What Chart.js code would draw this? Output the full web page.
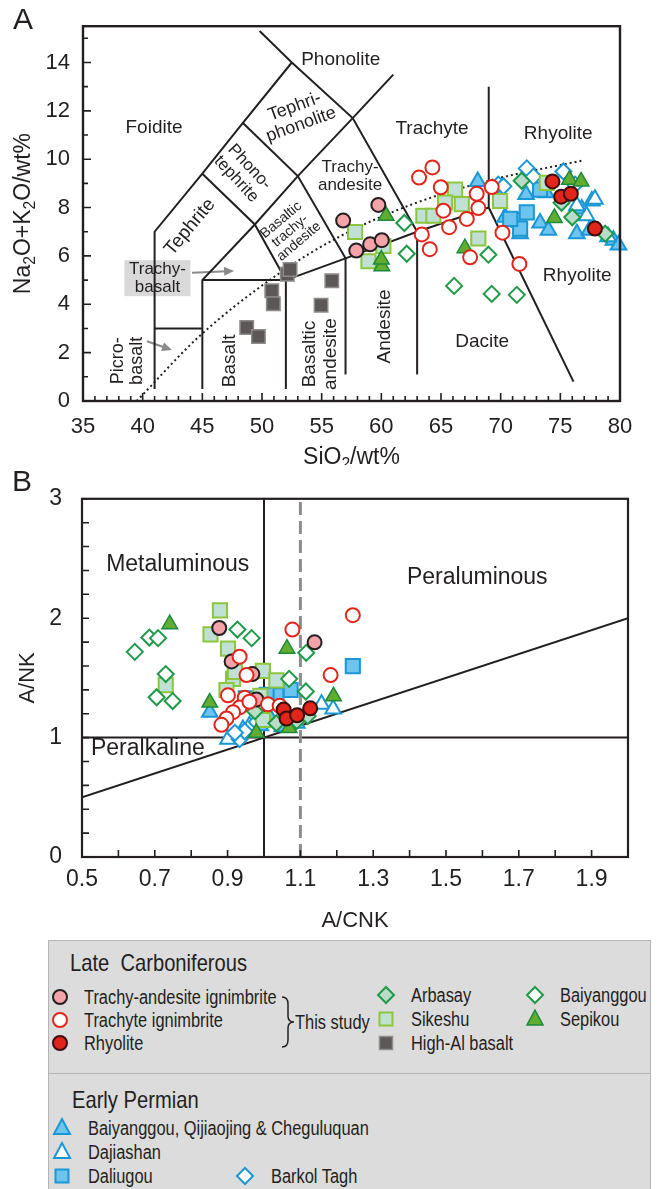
<!DOCTYPE html>
<html>
<head>
<meta charset="utf-8">
<script src="https://cdn.jsdelivr.net/npm/chart.js@4.4.1/dist/chart.umd.min.js"></script>
<style>
  body { margin: 0; background: #fff; width: 667px; height: 1189px; overflow: hidden; position: relative; }
  canvas { position: absolute; left: 0; }
  #tas { top: 0; }
  #ank { top: 465px; }
  #legend { position: absolute; left: 48px; top: 940px; width: 603px; height: 270px; background: #dcdcdc; border: 1px solid #b4b4b4; box-sizing: border-box; }
  #legend .div { position: absolute; left: 0; right: 0; top: 132px; border-top: 1px solid #b4b4b4; }
  .lg { position: absolute; white-space: nowrap; color: #231f20; font-family: "Liberation Sans", Arial, sans-serif; line-height: 1; transform-origin: 0 50%; }
  .mk { position: absolute; width: 22px; height: 22px; }
</style>
</head>
<body>
<canvas id="tas" width="667" height="465"></canvas>
<canvas id="ank" width="667" height="475"></canvas>
<div id="legend"><div class="div"></div></div>

<script>
const FONT = '"Liberation Sans", Arial, Helvetica, sans-serif';
const INK = '#231f20';

/* ---------------- Panel A: TAS (SiO2 vs Na2O+K2O) ---------------- */
const tasXTicks = [35, 40, 45, 50, 55, 60, 65, 70, 75, 80];
const tasYTicks = [0, 2, 4, 6, 8, 10, 12, 14];

const tasTrachyAndesite = [[56.8, 7.46], [59.75, 8.11], [57.9, 6.22], [59.06, 6.48], [60.04, 6.65]];
const tasTrachyte = [[63.16, 9.24], [64.28, 9.66], [64.98, 8.84], [67.99, 8.57], [69.25, 8.85], [68.13, 7.98],
  [65.2, 7.87], [67.16, 7.53], [65.68, 7.19], [63.39, 6.89], [70.15, 6.96], [64.06, 6.28], [67.44, 5.94], [71.57, 5.67]];
const tasRhyolite = [[74.34, 9.08], [75.07, 8.45], [75.88, 8.57], [77.9, 7.13]];
const tasArbasay = [[71.76, 9.11], [76.0, 7.6], [78.76, 6.92], [75.1, 8.2]];
const tasSikeshu = [[57.8, 6.99], [58.92, 5.78], [60.17, 6.41], [66.18, 8.74], [65.34, 8.21], [66.74, 8.14],
  [63.52, 7.66], [64.36, 7.66], [68.13, 6.72], [69.95, 8.27], [73.87, 9.02]];
const tasHighAlBasalt = [[48.72, 3.04], [49.7, 2.67], [50.82, 4.56], [50.95, 4.02], [52.12, 5.24], [52.35, 5.44], [54.95, 3.96], [55.85, 4.97]];
const tasBaiyanggouLC = [[61.93, 7.36], [62.13, 6.09], [68.97, 6.05], [66.1, 4.76], [69.25, 4.43], [71.35, 4.39]];
const tasSepikou = [[60.4, 7.66], [60.04, 5.57], [60.0, 5.85], [67.0, 6.32], [74.5, 7.57], [75.76, 9.15], [76.74, 9.08]];
const tasBaiyanggouEP = [[68.08, 9.08], [70.37, 7.6], [72.13, 8.54], [73.3, 7.36], [74.0, 7.06], [76.8, 7.94], [77.64, 8.27],
  [76.38, 6.92], [79.45, 6.65], [79.87, 6.45], [77.44, 7.06], [71.63, 6.92], [73.8, 8.61]];
const tasDajiashan = [[77.2, 7.66], [77.9, 8.34], [76.38, 8.07], [79.0, 6.79]];
const tasDaliugou = [[71.49, 7.49], [72.19, 7.8], [71.63, 7.13], [70.8, 7.53], [73.3, 8.74]];
const tasBarkolTagh = [[72.19, 9.62], [69.8, 8.95], [75.26, 9.49], [72.75, 9.28], [70.23, 8.88], [76.24, 8.95]];

// field boundaries of the TAS grid
const tasFieldLines = [
  [[41, 0.5], [41, 7], [45, 9.4], [48.4, 11.5], [52.5, 14], [49.8, 15.3]],
  [[41, 3], [45, 3]],
  [[45, 0.5], [45, 5], [49.4, 7.3], [53, 9.3], [57.6, 11.7], [61, 13.5]],
  [[45, 5], [52, 5]],
  [[52, 0.5], [52, 5], [57, 5.9], [63, 7], [69, 8], [69, 13]],
  [[45, 9.4], [49.4, 7.3], [52, 5]],
  [[48.4, 11.5], [53, 9.3], [57, 5.9], [57, 1.1]],
  [[52.5, 14], [57.6, 11.7], [63, 7], [63, 1.1]],
  [[69, 8], [76.1, 0.8]]
];
const tasAlkalineLine = [[39.5, 0], [44.8, 2.7], [51.5, 5.3], [56.5, 6.8], [62.4, 8.1], [68.9, 9.1], [76.9, 9.95]];

/* ---------------- Panel B: A/NK vs A/CNK ---------------- */
const ankXTicks = [0.5, 0.7, 0.9, 1.1, 1.3, 1.5, 1.7, 1.9];
const ankYTicks = [0, 1, 2, 3];

const ankTrachyAndesite = [[0.877, 1.918], [0.911, 1.638], [0.968, 1.532], [0.979, 1.319], [1.139, 1.798]];
const ankTrachyte = [[1.078, 1.905], [1.244, 2.025], [1.183, 1.524], [0.933, 1.678], [0.952, 1.524], [0.901, 1.354],
  [0.947, 1.333], [0.933, 1.253], [0.915, 1.213], [0.897, 1.160], [0.883, 1.107], [1.011, 1.279], [1.043, 1.266], [0.96, 1.30]];
const ankRhyolite = [[1.054, 1.235], [1.062, 1.16], [1.091, 1.187], [1.127, 1.245]];
const ankArbasay = [[1.034, 1.12], [1.09, 1.14], [0.975, 1.22], [1.12, 1.18]];
const ankSikeshu = [[0.879, 2.065], [0.853, 1.865], [0.901, 1.745], [0.730, 1.439], [0.915, 1.492], [0.897, 1.399],
  [0.997, 1.559], [1.034, 1.479], [0.997, 1.147], [0.92, 1.55], [0.99, 1.35]];
const ankBaiyanggouLC = [[0.645, 1.718], [0.685, 1.838], [0.709, 1.833], [0.730, 1.532], [0.705, 1.338], [0.749, 1.306],
  [0.927, 1.905], [0.966, 1.833], [1.069, 1.492], [1.116, 1.71], [1.115, 1.386]];
const ankSepikou = [[0.741, 1.95], [0.851, 1.293], [1.063, 1.745], [1.191, 1.346], [0.979, 1.04], [1.069, 1.08]];
const ankBaiyanggouEP = [[0.851, 1.213], [0.99, 1.1], [1.02, 1.15], [1.09, 1.12], [1.05, 1.09]];
const ankDajiashan = [[0.901, 0.987], [0.942, 1.067], [1.158, 1.279], [1.19, 1.24], [0.96, 1.1]];
const ankDaliugou = [[1.073, 1.399], [1.244, 1.599], [1.034, 1.354], [1.007, 1.359], [0.95, 1.33]];
const ankBarkolTagh = [[0.933, 0.987], [0.947, 1.053], [0.92, 1.04], [0.98, 1.13]];

const ankFieldLines = [
  [[0.5, 1], [2, 1]],
  [[1, 0], [1, 3]],
  [[0.5, 0.5], [2, 2]]
];
const ankDashedLine = [[1.1, 0], [1.1, 3]];

/* ---------------- marker styles ---------------- */
const STYLE = {
  trachyAndesite: { shape: 'circle', r: 7, fill: '#f4a3a8', stroke: '#231f20', w: 2 },
  trachyte: { shape: 'circle', r: 7, fill: '#ffffff', stroke: '#e1251b', w: 2 },
  rhyolite: { shape: 'circle', r: 7, fill: '#e1251b', stroke: '#3b0d0c', w: 2 },
  arbasay: { shape: 'rectRot', r: 8, fill: '#b9dcc8', stroke: '#1f9a48', w: 2 },
  sikeshu: { shape: 'rect', r: 10, fill: '#bfe0d2', stroke: '#8cc63f', w: 2 },
  highAl: { shape: 'rect', r: 9.5, fill: '#5c5858', stroke: '#8e8b8b', w: 1.5 },
  baiyanggouLC: { shape: 'rectRot', r: 8, fill: '#ffffff', stroke: '#1f9a48', w: 2 },
  sepikou: { shape: 'triangle', r: 9, fill: '#62ad2f', stroke: '#1c8a3c', w: 1.5 },
  baiyanggouEP: { shape: 'triangle', r: 9, fill: '#6cc4ef', stroke: '#1a97d5', w: 2 },
  dajiashan: { shape: 'triangle', r: 9, fill: '#ffffff', stroke: '#1a97d5', w: 2 },
  daliugou: { shape: 'rect', r: 10, fill: '#6cc4ef', stroke: '#1a97d5', w: 2 },
  barkolTagh: { shape: 'rectRot', r: 8, fill: '#ffffff', stroke: '#1a97d5', w: 2 }
};

const pts = arr => arr.map(([x, y]) => ({ x, y }));

function series(label, arr, st) {
  return {
    label, data: pts(arr), showLine: false, clip: false, order: 1,
    pointStyle: st.shape, pointRadius: st.r, pointHoverRadius: st.r,
    pointBackgroundColor: st.fill, pointBorderColor: st.stroke, pointBorderWidth: st.w
  };
}

function boundary(arr, extra) {
  return Object.assign({
    data: pts(arr), showLine: true, pointRadius: 0, borderColor: INK, borderWidth: 2,
    fill: false, tension: 0, order: 10
  }, extra || {});
}

/* draws "Na2O" style text with subscript digits marked by [ ] */
function richText(ctx, str, x, y, size, rot) {
  const parts = str.split(/(\[[^\]]*\])/).filter(Boolean).map(p =>
    p[0] === '[' ? { t: p.slice(1, -1), sub: true } : { t: p, sub: false });
  const subSize = size * 0.68;
  let total = 0;
  parts.forEach(p => {
    ctx.font = `${p.sub ? subSize : size}px ${FONT}`;
    p.w = ctx.measureText(p.t).width;
    total += p.w;
  });
  ctx.save();
  ctx.translate(x, y);
  ctx.rotate(rot || 0);
  ctx.fillStyle = INK;
  ctx.textBaseline = 'alphabetic';
  ctx.textAlign = 'left';
  let cx = -total / 2;
  parts.forEach(p => {
    ctx.font = `${p.sub ? subSize : size}px ${FONT}`;
    ctx.fillText(p.t, cx, size * 0.36 + (p.sub ? size * 0.22 : 0));
    cx += p.w;
  });
  ctx.restore();
}

function arrow(ctx, x1, y1, x2, y2, color) {
  const a = Math.atan2(y2 - y1, x2 - x1);
  ctx.save();
  ctx.strokeStyle = color; ctx.fillStyle = color; ctx.lineWidth = 2;
  ctx.beginPath(); ctx.moveTo(x1, y1); ctx.lineTo(x2 - 7 * Math.cos(a), y2 - 7 * Math.sin(a)); ctx.stroke();
  ctx.beginPath();
  ctx.moveTo(x2, y2);
  ctx.lineTo(x2 - 10 * Math.cos(a) + 4.5 * Math.sin(a), y2 - 10 * Math.sin(a) - 4.5 * Math.cos(a));
  ctx.lineTo(x2 - 10 * Math.cos(a) - 4.5 * Math.sin(a), y2 - 10 * Math.sin(a) + 4.5 * Math.cos(a));
  ctx.closePath(); ctx.fill();
  ctx.restore();
}

// region labels, frame, inward ticks, axis titles, panel letter
const decorPlugin = {
  id: 'decor',
  beforeDatasetsDraw(chart, args, o) {
    const { ctx } = chart;
    const xs = chart.scales.x, ys = chart.scales.y;
    (o.boxes || []).forEach(b => {
      const px = xs.getPixelForValue(b.at[0]), py = ys.getPixelForValue(b.at[1]);
      ctx.fillStyle = '#d9d9d9';
      ctx.fillRect(px - b.w / 2, py - b.h / 2, b.w, b.h);
    });
    (o.labels || []).forEach(l => {
      ctx.save();
      ctx.translate(xs.getPixelForValue(l.at[0]), ys.getPixelForValue(l.at[1]));
      ctx.rotate((l.rot || 0) * Math.PI / 180);
      ctx.font = `${l.size}px ${FONT}`;
      ctx.fillStyle = INK;
      ctx.textAlign = 'center';
      ctx.textBaseline = 'middle';
      const lines = l.text.split('\n');
      const lh = l.lh || l.size * 1.05;
      lines.forEach((t, i) => ctx.fillText(t, 0, (i - (lines.length - 1) / 2) * lh));
      ctx.restore();
    });
    (o.arrows || []).forEach(a => arrow(ctx,
      xs.getPixelForValue(a.from[0]), ys.getPixelForValue(a.from[1]),
      xs.getPixelForValue(a.to[0]), ys.getPixelForValue(a.to[1]), '#8a8a8a'));
  },
  afterDraw(chart, args, o) {
    const { ctx, chartArea: ca } = chart;
    const xs = chart.scales.x, ys = chart.scales.y;
    ctx.save();
    ctx.strokeStyle = INK;
    ctx.lineWidth = o.frameWidth;
    ctx.strokeRect(ca.left, ca.top, ca.right - ca.left, ca.bottom - ca.top);
    ctx.lineWidth = 1.6;
    ctx.beginPath();
    const nx = Math.round((xs.max - xs.min) / o.xStep);
    for (let i = 0; i <= nx; i++) {
      const v = xs.min + i * o.xStep;
      const len = (i % o.xMajorEvery === 0) ? o.majorLen : o.minorLen;
      const px = xs.getPixelForValue(v);
      ctx.moveTo(px, ca.bottom); ctx.lineTo(px, ca.bottom - len);
    }
    const ny = Math.floor((ys.max - ys.min) / o.yStep + 1e-6);
    for (let i = 0; i <= ny; i++) {
      const v = ys.min + i * o.yStep;
      const len = (i % o.yMajorEvery === 0) ? o.majorLen : o.minorLen;
      const py = ys.getPixelForValue(v);
      ctx.moveTo(ca.left, py); ctx.lineTo(ca.left + len, py);
    }
    ctx.stroke();
    ctx.restore();
    // axis titles and panel letter
    richText(ctx, o.xTitle, (ca.left + ca.right) / 2, ca.bottom + o.xTitleOffset, o.titleSize, 0);
    richText(ctx, o.yTitle, o.yTitleX, (ca.top + ca.bottom) / 2, o.titleSize, -Math.PI / 2);
    ctx.save();
    ctx.font = `30px ${FONT}`;
    ctx.fillStyle = INK;
    ctx.textAlign = 'center';
    ctx.textBaseline = 'middle';
    ctx.fillText(o.letter[0], o.letter[1], o.letter[2]);
    ctx.restore();
  }
};

function axis(ticks, min, max, fontSize, pad, fitSize, isX, fmt) {
  return {
    type: 'linear', min, max,
    afterBuildTicks: s => { s.ticks = ticks.map(v => ({ value: v })); },
    afterFit: s => { if (isX) s.height = fitSize; else s.width = fitSize; },
    grid: { display: false, drawTicks: false },
    border: { display: false },
    ticks: {
      autoSkip: false, maxRotation: 0, padding: pad, color: INK,
      font: { family: FONT, size: fontSize },
      callback: fmt || (v => String(v))
    }
  };
}

const commonOpts = {
  responsive: false, animation: false, events: [],
  plugins: { legend: { display: false }, tooltip: { enabled: false } }
};

const tasDatasets = [
  series('Rhyolite', tasRhyolite, STYLE.rhyolite),
  series('Trachyte ignimbrite', tasTrachyte, STYLE.trachyte),
  series('Trachy-andesite ignimbrite', tasTrachyAndesite, STYLE.trachyAndesite),
  series('Arbasay', tasArbasay, STYLE.arbasay),
  series('Sepikou', tasSepikou, STYLE.sepikou),
  series('Baiyanggou', tasBaiyanggouLC, STYLE.baiyanggouLC),
  series('Sikeshu', tasSikeshu, STYLE.sikeshu),
  series('High-Al basalt', tasHighAlBasalt, STYLE.highAl),
  series('Barkol Tagh', tasBarkolTagh, STYLE.barkolTagh),
  series('Daliugou', tasDaliugou, STYLE.daliugou),
  series('Dajiashan', tasDajiashan, STYLE.dajiashan),
  series('Baiyanggou, Qijiaojing & Cheguluquan', tasBaiyanggouEP, STYLE.baiyanggouEP),
  ...tasFieldLines.map(l => boundary(l)),
  boundary(tasAlkalineLine, { borderDash: [2, 3], borderWidth: 2, cubicInterpolationMode: 'monotone' })
];

new Chart(document.getElementById('tas'), {
  type: 'scatter',
  data: { datasets: tasDatasets },
  options: Object.assign({}, commonOpts, {
    layout: { padding: { top: 18, right: 47, left: 0, bottom: 0 } },
    scales: {
      x: axis(tasXTicks, 35, 80, 22, 13, 64, true),
      y: axis(tasYTicks, 0, 15.5, 22, 13, 83, false)
    },
    plugins: Object.assign({}, commonOpts.plugins, {
      decor: {
        frameWidth: 2.4, xStep: 1, xMajorEvery: 5, yStep: 1, yMajorEvery: 2, majorLen: 8, minorLen: 5,
        xTitle: 'SiO[2]/wt%', xTitleOffset: 55, yTitle: 'Na[2]O+K[2]O/wt%', yTitleX: 22, titleSize: 23,
        letter: ['A', 23, 21],
        boxes: [{ at: [41.24, 5.08], w: 66, h: 36 }],
        labels: [
          { text: 'Foidite', at: [40.95, 11.3], size: 19 },
          { text: 'Phonolite', at: [56.6, 14.13], size: 19 },
          { text: 'Tephri-\nphonolite', at: [53.0, 11.8], size: 18, rot: -20, lh: 19 },
          { text: 'Phono-\ntephrite', at: [48.4, 9.43], size: 17, rot: 47, lh: 18 },
          { text: 'Tephrite', at: [43.97, 7.2], size: 19, rot: -50 },
          { text: 'Basaltic\ntrachy-\nandesite', at: [52.35, 7.04], size: 14, rot: -40, lh: 14 },
          { text: 'Trachy-\nandesite', at: [57.38, 9.31], size: 17, lh: 18 },
          { text: 'Trachyte', at: [64.25, 11.25], size: 19 },
          { text: 'Rhyolite', at: [74.82, 11.05], size: 19 },
          { text: 'Rhyolite', at: [76.41, 5.18], size: 19 },
          { text: 'Dacite', at: [68.45, 2.47], size: 19 },
          { text: 'Andesite', at: [60.31, 3.08], size: 19, rot: -90 },
          { text: 'Basaltic\nandesite', at: [54.87, 1.94], size: 19, rot: -90, lh: 21 },
          { text: 'Basalt', at: [47.32, 1.66], size: 19, rot: -90 },
          { text: 'Picro-\nbasalt', at: [38.77, 1.66], size: 18, rot: -90, lh: 19 },
          { text: 'Trachy-\nbasalt', at: [41.24, 5.08], size: 17, lh: 18 }
        ],
        arrows: [
          { from: [44.14, 5.30], to: [47.66, 5.38] },
          { from: [40.36, 2.47], to: [42.46, 2.11] }
        ]
      }
    })
  }),
  plugins: [decorPlugin]
});

const ankDatasets = [
  series('Rhyolite', ankRhyolite, STYLE.rhyolite),
  series('Trachyte ignimbrite', ankTrachyte, STYLE.trachyte),
  series('Trachy-andesite ignimbrite', ankTrachyAndesite, STYLE.trachyAndesite),
  series('Arbasay', ankArbasay, STYLE.arbasay),
  series('Sepikou', ankSepikou, STYLE.sepikou),
  series('Baiyanggou', ankBaiyanggouLC, STYLE.baiyanggouLC),
  series('Sikeshu', ankSikeshu, STYLE.sikeshu),
  series('Barkol Tagh', ankBarkolTagh, STYLE.barkolTagh),
  series('Daliugou', ankDaliugou, STYLE.daliugou),
  series('Dajiashan', ankDajiashan, STYLE.dajiashan),
  series('Baiyanggou, Qijiaojing & Cheguluquan', ankBaiyanggouEP, STYLE.baiyanggouEP),
  ...ankFieldLines.map(l => boundary(l)),
  boundary(ankDashedLine, { borderColor: '#8c8c8c', borderWidth: 3, borderDash: [13, 6], order: 9 })
];

new Chart(document.getElementById('ank'), {
  type: 'scatter',
  data: { datasets: ankDatasets },
  options: Object.assign({}, commonOpts, {
    layout: { padding: { top: 16, right: 39, left: 0, bottom: 0 } },
    scales: {
      x: axis(ankXTicks, 0.5, 2.0, 23, 9, 83, true, v => v.toFixed(1)),
      y: axis(ankYTicks, 0, 3, 23, 20, 82, false)
    },
    plugins: Object.assign({}, commonOpts.plugins, {
      decor: {
        frameWidth: 2.2, xStep: 0.1, xMajorEvery: 1, yStep: 0.2, yMajorEvery: 1, majorLen: 7, minorLen: 7,
        xTitle: 'A/CNK', xTitleOffset: 62, yTitle: 'A/NK', yTitleX: 26, titleSize: 22,
        letter: ['B', 22, 18],
        labels: [
          { text: 'Metaluminous', at: [0.763, 2.45], size: 23 },
          { text: 'Peraluminous', at: [1.586, 2.34], size: 23 },
          { text: 'Peralkaline', at: [0.681, 0.91], size: 23 }
        ]
      }
    })
  }),
  plugins: [decorPlugin]
});

/* ---------------- legend (HTML) ---------------- */
const legendHeadings = [
  { text: 'Late&nbsp;&nbsp;Carboniferous', x: 70, y: 963 },
  { text: 'Early Permian', x: 72, y: 1100 }
];
const legendItems = [
  { st: 'trachyAndesite', text: 'Trachy-andesite ignimbrite', mx: 60, tx: 84, y: 997 },
  { st: 'trachyte', text: 'Trachyte ignimbrite', mx: 60, tx: 84, y: 1020 },
  { st: 'rhyolite', text: 'Rhyolite', mx: 60, tx: 84, y: 1043 },
  { st: 'arbasay', text: 'Arbasay', mx: 386, tx: 411, y: 995 },
  { st: 'sikeshu', text: 'Sikeshu', mx: 386, tx: 411, y: 1019 },
  { st: 'highAl', text: 'High-Al basalt', mx: 386, tx: 411, y: 1043 },
  { st: 'baiyanggouLC', text: 'Baiyanggou', mx: 535, tx: 560, y: 995 },
  { st: 'sepikou', text: 'Sepikou', mx: 535, tx: 560, y: 1019 },
  { st: 'baiyanggouEP', text: 'Baiyanggou, Qijiaojing &amp; Cheguluquan', mx: 62, tx: 88, y: 1128 },
  { st: 'dajiashan', text: 'Dajiashan', mx: 62, tx: 88, y: 1152 },
  { st: 'daliugou', text: 'Daliugou', mx: 62, tx: 88, y: 1176 },
  { st: 'barkolTagh', text: 'Barkol Tagh', mx: 245, tx: 271, y: 1176 }
];

function markerSVG(st) {
  const c = 11;
  const a = `fill="${st.fill}" stroke="${st.stroke}" stroke-width="${st.w}"`;
  let shape;
  if (st.shape === 'circle') shape = `<circle cx="${c}" cy="${c}" r="7" ${a}/>`;
  else if (st.shape === 'rect') shape = `<rect x="${c - 6.5}" y="${c - 6.5}" width="13" height="13" ${a}/>`;
  else if (st.shape === 'rectRot') shape = `<polygon points="${c},${c - 8} ${c + 8},${c} ${c},${c + 8} ${c - 8},${c}" ${a}/>`;
  else shape = `<polygon points="${c},${c - 9} ${c + 8},${c + 6} ${c - 8},${c + 6}" ${a}/>`;
  return `<svg width="22" height="22" xmlns="http://www.w3.org/2000/svg">${shape}</svg>`;
}

const body = document.body;
legendHeadings.forEach(h => {
  const d = document.createElement('div');
  d.className = 'lg';
  d.style.cssText = `left:${h.x}px;top:${h.y - 12}px;font-size:24px;transform:scaleX(0.84);`;
  d.innerHTML = h.text;
  body.appendChild(d);
});
legendItems.forEach(it => {
  const m = document.createElement('div');
  m.className = 'mk';
  m.style.cssText = `left:${it.mx - 11}px;top:${it.y - 11}px;`;
  m.innerHTML = markerSVG(STYLE[it.st]);
  body.appendChild(m);
  const t = document.createElement('div');
  t.className = 'lg';
  t.style.cssText = `left:${it.tx}px;top:${it.y - 10}px;font-size:20px;transform:scaleX(0.82);`;
  t.innerHTML = it.text;
  body.appendChild(t);
});
// brace + "This study"
const brace = document.createElement('div');
brace.className = 'mk';
brace.style.cssText = 'left:278px;top:994px;width:20px;height:56px;';
brace.innerHTML = '<svg width="20" height="56" xmlns="http://www.w3.org/2000/svg"><path d="M4 3 Q10 3 10 10 L10 22 Q10 28 16 28 Q10 28 10 34 L10 46 Q10 53 4 53" fill="none" stroke="#231f20" stroke-width="1.5"/></svg>';
body.appendChild(brace);
const study = document.createElement('div');
study.className = 'lg';
study.style.cssText = 'left:295px;top:1012px;font-size:20px;transform:scaleX(0.82);';
study.textContent = 'This study';
body.appendChild(study);
</script>
</body>
</html>
